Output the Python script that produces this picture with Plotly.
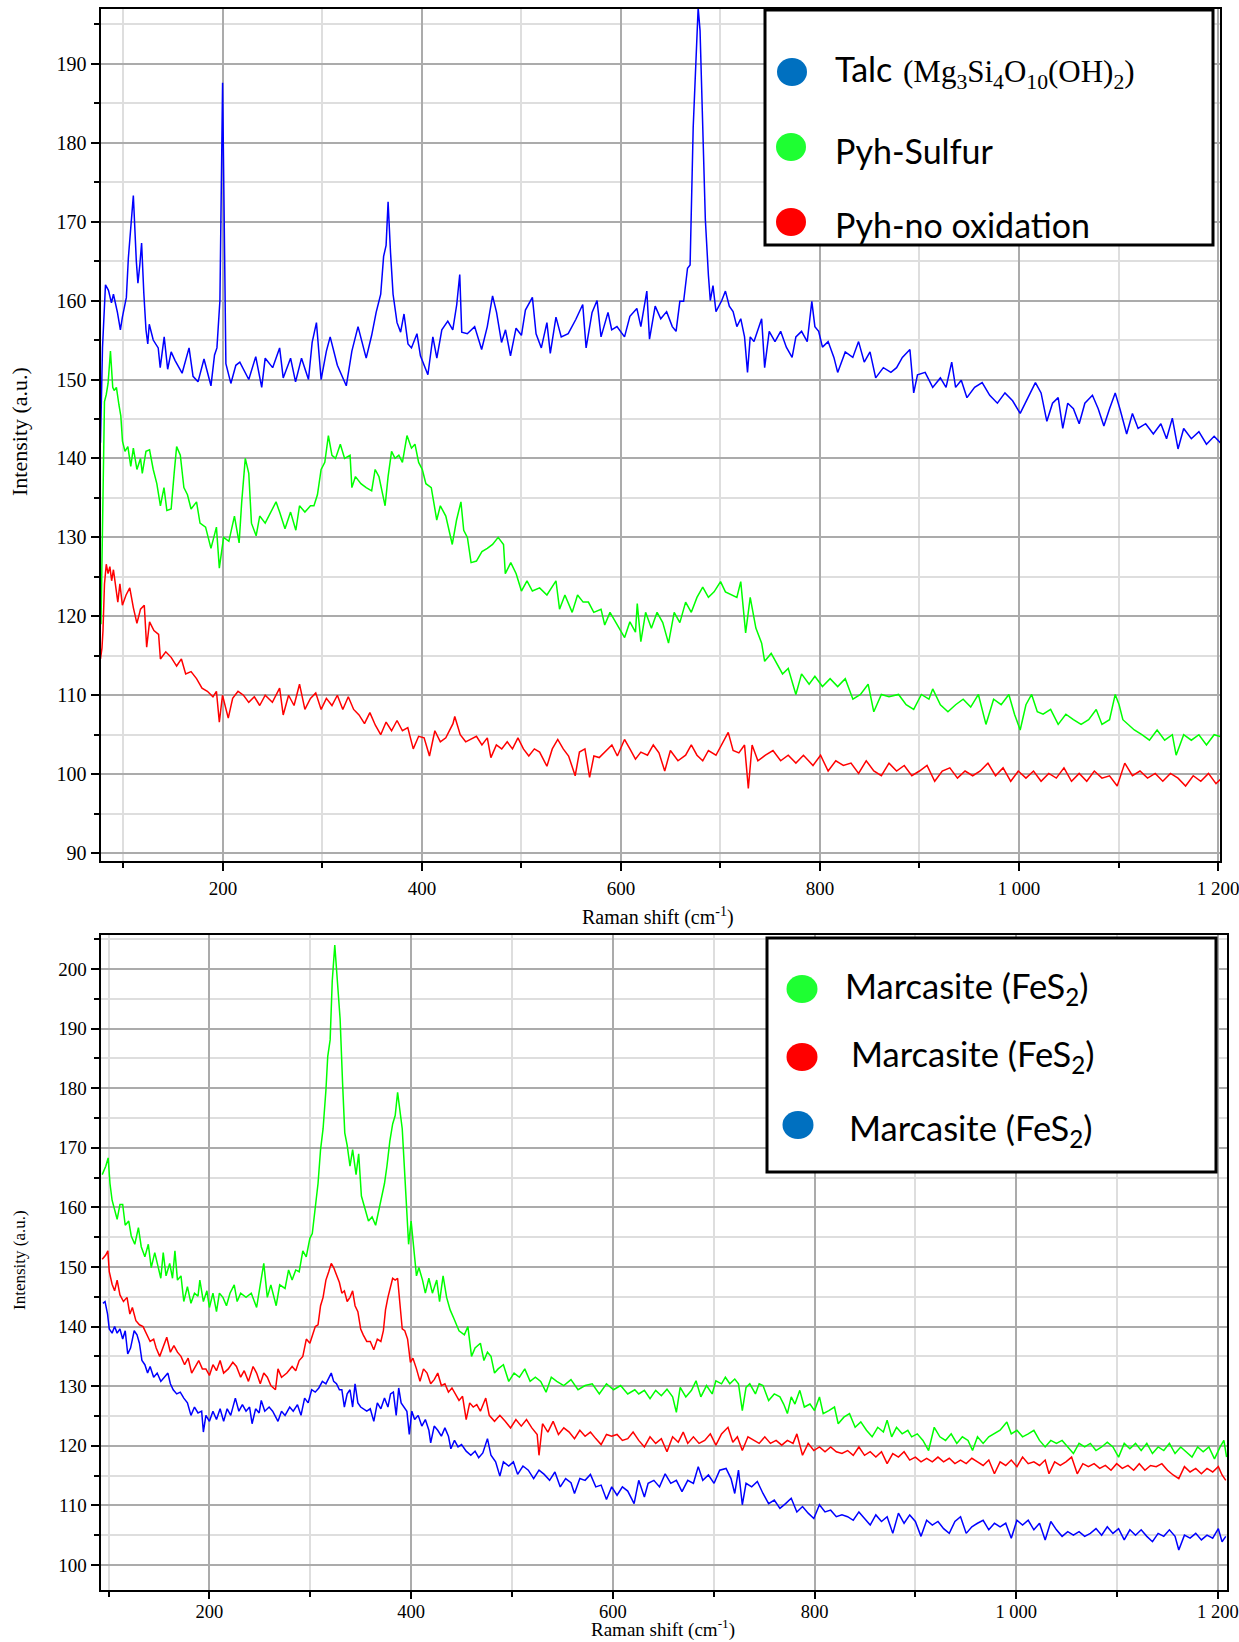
import plotly.graph_objects as go

W, H = 1239, 1642

# Raman spectra, (shift in cm-1, intensity in a.u.)
# Upper panel
TALC = [(77, 142.0), (79, 154.0), (82, 162.0), (85, 161.3), (88, 159.7), (90, 160.8), (94, 158.5), (97, 156.3), (99, 157.9), (103, 160.4), (105, 165.4), (110, 173.3), (113, 165.0), (114.6, 162.2), (116.5, 164.5), (118.3, 167.3), (120.5, 161.0), (122.7, 156.3), (124.5, 154.5), (126, 157.0), (130, 155.0), (135, 154.0), (137, 151.5), (141, 155.4), (144.5, 151.3), (148, 153.5), (152, 152.4), (159, 150.8), (166, 154.0), (170, 150.4), (175, 149.7), (181, 152.6), (188, 149.2), (191.6, 153.1), (194, 154.0), (197, 160.0), (199.7, 187.6), (201.5, 165.0), (203, 152.0), (208, 149.5), (213, 151.8), (217, 152.2), (226, 150.0), (233, 152.9), (239, 149.0), (242.5, 152.7), (250, 151.5), (257, 154.0), (260.6, 150.2), (268, 152.7), (273, 149.7), (279, 152.7), (286, 150.0), (289.7, 154.7), (294, 157.2), (298.7, 150.0), (304, 153.6), (307.8, 155.4), (315, 151.8), (324, 149.2), (329.6, 153.6), (335.8, 156.7), (344, 152.7), (349.5, 155.6), (354, 158.5), (358.6, 160.8), (361.5, 165.6), (364, 167.0), (366, 172.5), (368.5, 166.0), (371, 160.8), (375, 157.2), (378.6, 156.0), (382, 158.3), (386, 154.5), (389.5, 154.0), (395, 155.8), (398.5, 153.0), (406, 150.6), (411, 155.4), (415, 152.7), (420, 156.3), (426, 157.4), (431, 156.3), (435, 159.5), (438, 163.3), (440, 156.0), (445.6, 155.8), (453, 156.7), (460, 153.8), (465.7, 156.7), (471, 160.6), (475, 158.5), (480, 154.7), (484, 156.3), (489, 153.0), (494.6, 156.5), (500, 155.6), (504, 158.8), (511, 160.4), (514.7, 155.8), (520, 154.0), (525.6, 157.2), (529, 153.3), (534.7, 157.9), (540, 155.4), (547, 155.8), (554.6, 157.6), (561.6, 159.5), (565, 154.0), (571, 158.5), (576, 160.0), (580, 155.4), (587, 158.5), (590.7, 156.3), (596, 156.7), (603.6, 155.4), (609, 158.0), (616, 159.0), (620, 156.7), (626, 161.2), (628.7, 155.1), (634.4, 159.3), (640, 157.7), (645.9, 158.6), (651.6, 156.7), (655.4, 156.1), (659.2, 159.9), (663, 159.9), (666.9, 164.1), (669.5, 164.5), (672.6, 181.9), (675.7, 192.9), (677.6, 197.1), (679.5, 194.2), (682.2, 181.9), (684.8, 170.3), (687.9, 163.2), (689.8, 160.0), (692.5, 161.9), (695.5, 158.6), (701.3, 160.0), (705, 161.2), (708.9, 159.3), (712.7, 158.6), (716.5, 156.7), (720.4, 157.7), (724.2, 155.4), (727.2, 150.9), (729.9, 155.4), (733.7, 154.8), (741.4, 157.7), (744.4, 151.5), (749, 156.1), (754.8, 154.8), (760.5, 156.1), (766.2, 154.1), (772, 152.8), (775.8, 155.4), (781.5, 156.1), (787.2, 154.8), (791.8, 159.9), (794.9, 156.7), (798.7, 156.1), (802.5, 154.1), (808.2, 154.8), (814, 152.8), (817.8, 150.9), (825.4, 153.5), (833, 152.8), (838.8, 154.8), (844.5, 152.2), (850.3, 153.5), (856, 150.2), (863.7, 151.5), (871.3, 150.9), (877, 151.5), (882.8, 152.8), (890.4, 153.8), (894.2, 148.3), (898, 150.6), (905.7, 150.9), (913.3, 149.0), (921, 150.2), (926.7, 149.0), (932.4, 152.2), (936.3, 149.0), (942, 149.9), (947.7, 147.7), (955.4, 149.0), (963, 149.6), (970.6, 148.0), (978.3, 147.0), (985.9, 148.3), (993.6, 147.3), (1001.2, 145.7), (1008.9, 147.7), (1016.5, 149.6), (1022.2, 148.3), (1028, 144.7), (1033.7, 147.0), (1039.4, 147.7), (1044, 143.8), (1049, 147.0), (1054.7, 146.3), (1060.5, 144.4), (1066.2, 147.0), (1073.8, 148.0), (1079.6, 146.3), (1085.3, 144.1), (1091, 146.3), (1096.7, 148.3), (1101.4, 146.3), (1108.2, 143.1), (1114, 145.7), (1119.7, 143.8), (1127.3, 144.4), (1135, 143.1), (1142.6, 144.4), (1148.3, 142.5), (1154.1, 145.1), (1159.8, 141.2), (1165.5, 143.8), (1173.2, 142.5), (1180.8, 143.4), (1188.4, 141.8), (1196.1, 142.8), (1203.7, 141.8)]

PYH_SULFUR = [(77.5, 119.0), (78.4, 126.8), (81, 147.2), (82.8, 148.1), (84.6, 149.5), (87, 153.6), (89.3, 149.0), (90.7, 148.6), (93, 149.0), (95.5, 146.8), (97.4, 145.4), (99.1, 142.2), (101.6, 140.9), (104.5, 141.5), (107.4, 139.0), (110, 141.3), (113.6, 138.6), (117.2, 140.0), (119, 138.1), (122.7, 140.9), (126.3, 141.1), (130, 138.6), (133.6, 136.8), (137.2, 134.0), (140.8, 136.3), (143.7, 133.4), (148, 133.6), (151, 138.1), (153.5, 141.5), (157.2, 140.4), (160.8, 136.3), (164.4, 135.4), (168, 133.6), (173.5, 134.5), (177, 131.8), (182.6, 131.3), (188, 128.6), (193.5, 131.3), (196.4, 126.1), (200.7, 130.0), (206, 129.5), (211.6, 132.7), (216.3, 129.3), (218.9, 134.5), (222.5, 140.0), (226, 138.1), (228.7, 131.8), (233.4, 130.2), (237, 132.7), (242.5, 131.8), (248, 133.2), (253.4, 134.5), (257, 133.2), (262.4, 131.1), (268, 133.2), (273.3, 130.9), (277, 134.0), (282.4, 133.2), (288, 134.0), (291.5, 134.0), (295, 135.4), (298.7, 138.6), (302.4, 139.5), (306, 142.9), (309.6, 140.4), (313.2, 140.0), (318, 141.8), (322.3, 140.0), (327.8, 140.4), (329.6, 136.3), (333.2, 137.7), (338.7, 136.8), (344, 136.3), (349.5, 135.9), (353, 138.6), (356.8, 137.7), (363, 134.0), (366, 137.7), (369.5, 140.9), (373, 140.0), (376.8, 140.4), (380.4, 139.5), (385, 142.9), (389.5, 141.3), (393, 141.8), (396.7, 139.5), (400.4, 138.6), (404, 136.8), (409.4, 136.3), (414.9, 132.2), (418.5, 134.0), (424, 132.7), (430.5, 129.1), (434.8, 132.2), (439.2, 134.5), (442, 130.9), (445.7, 130.0), (449.4, 126.8), (454.8, 127.0), (460.3, 128.2), (465.7, 128.6), (471, 129.1), (476.6, 130.0), (482, 129.1), (483.8, 125.4), (489.3, 126.8), (494.7, 125.4), (500, 123.2), (505.6, 124.5), (511, 123.2), (518.3, 123.6), (525.6, 122.7), (534.7, 124.5), (538.3, 120.9), (543.7, 122.7), (551, 120.5), (556.4, 122.7), (562, 121.8), (567.3, 121.8), (572.7, 120.5), (580, 120.9), (583.7, 118.9), (589, 120.5), (594.6, 119.3), (603.7, 117.3), (609, 119.3), (614.6, 118.0), (616.4, 121.6), (620, 116.8), (624.8, 120.5), (630.6, 118.5), (636.3, 120.5), (642, 119.2), (647.8, 116.6), (653.5, 120.5), (659.2, 119.2), (665, 121.8), (670.7, 120.5), (676.4, 122.4), (682.2, 123.7), (687.9, 122.4), (693.6, 123.1), (700.1, 124.4), (705, 123.1), (710.8, 122.7), (716.5, 122.4), (720.4, 124.4), (725.3, 117.9), (729.9, 122.4), (735.6, 118.5), (741.4, 116.6), (744.4, 114.3), (751, 115.3), (756.7, 114.0), (762.4, 112.7), (768.1, 113.4), (775.8, 110.1), (781.5, 112.7), (789.1, 111.4), (794.9, 112.4), (802.5, 111.1), (810.2, 112.1), (817.8, 111.1), (825.4, 112.1), (833.1, 109.5), (840.7, 110.1), (848.4, 111.4), (854.1, 107.9), (861.7, 110.1), (869.4, 109.8), (879, 110.1), (886.6, 108.8), (894.2, 108.2), (901.9, 110.1), (909.5, 109.5), (913.3, 110.8), (921, 108.8), (928.6, 107.9), (936.3, 108.8), (943.9, 109.5), (951.5, 108.5), (959.2, 110.1), (966.8, 106.3), (974.5, 109.5), (982.1, 108.8), (989.8, 110.1), (995.5, 107.6), (1001.2, 105.6), (1007, 108.8), (1012.7, 110.1), (1018.4, 107.9), (1024.2, 107.6), (1031.8, 108.2), (1039.4, 106.3), (1047.1, 107.6), (1054.7, 106.9), (1062.4, 106.3), (1070, 106.9), (1077.6, 108.2), (1083.4, 106.3), (1091, 106.9), (1096.7, 110.1), (1100.6, 108.8), (1104.4, 106.9), (1110.1, 106.3), (1115.9, 105.6), (1123.5, 105.0), (1131.1, 104.3), (1138.8, 105.6), (1146.4, 104.3), (1154.1, 105.0), (1157.9, 102.4), (1165.5, 105.0), (1173.2, 104.3), (1180.8, 105.0), (1188.4, 103.7), (1196.1, 105.0), (1203.7, 104.7)]

PYH_NO_OXIDATION = [(77, 114.6), (78.5, 116.0), (79.5, 118.2), (81, 124.1), (82.8, 126.6), (84.6, 125.4), (86.4, 126.3), (88.2, 124.5), (90, 125.9), (91.8, 124.1), (94.4, 121.8), (96.5, 124.1), (99, 121.4), (102.7, 122.7), (106.4, 123.6), (110, 121.1), (113.6, 119.1), (117.2, 120.9), (121, 121.4), (123.4, 116.1), (126.3, 119.3), (130.7, 118.2), (135.4, 117.7), (137.2, 114.6), (142.6, 115.5), (148, 114.8), (153.5, 113.7), (158.3, 114.6), (162.6, 112.7), (168, 113.0), (173.5, 112.1), (179, 110.9), (184.4, 110.5), (190, 109.8), (193.5, 110.5), (196.4, 106.6), (199.6, 110.0), (205.4, 107.1), (209.8, 109.6), (215.2, 110.5), (220.7, 110.0), (226, 109.1), (231.6, 109.8), (237, 108.7), (242.5, 110.0), (249.7, 109.1), (257, 110.9), (260.6, 107.5), (266, 110.0), (271.5, 108.7), (277, 111.4), (282.4, 108.2), (288, 109.6), (293.3, 110.3), (298.7, 108.2), (304, 109.6), (309.6, 108.7), (315, 110.0), (320.5, 108.2), (326, 109.8), (331.4, 108.2), (336.8, 107.5), (342.3, 106.4), (347.7, 107.8), (353.2, 106.2), (358.6, 105.0), (364, 106.6), (369.5, 105.5), (375, 106.8), (380.4, 105.5), (385.8, 105.9), (391.3, 103.2), (396.7, 104.8), (402.2, 104.6), (407.6, 102.3), (413, 105.5), (418.5, 104.1), (424, 104.6), (431.2, 106.4), (433, 107.3), (438.5, 105.0), (444, 104.1), (449.4, 104.4), (454.8, 104.8), (460.3, 103.7), (465.7, 104.6), (469.3, 102.1), (474.8, 103.7), (480.2, 103.2), (485.7, 104.1), (491, 103.2), (496.5, 104.6), (502, 103.2), (507.4, 102.3), (513, 103.2), (518.3, 102.8), (525.6, 101.0), (531, 103.2), (536.5, 104.4), (542, 103.2), (547.4, 102.3), (554, 99.8), (558.3, 102.8), (563.8, 103.2), (568.5, 99.6), (572.8, 102.3), (578.2, 102.1), (583.7, 102.8), (590.9, 103.7), (596.4, 102.3), (603.6, 104.4), (609, 103.2), (614.6, 101.9), (620, 102.8), (626.7, 102.4), (632.5, 103.7), (638.2, 102.7), (644, 100.4), (649.7, 103.0), (657.3, 101.7), (665, 102.4), (670.7, 103.7), (676.4, 102.4), (682.2, 101.7), (687.9, 103.0), (695.5, 102.4), (701.3, 103.7), (707.8, 105.3), (712.7, 103.0), (718.5, 102.7), (724.2, 103.7), (728, 98.2), (731.8, 103.7), (737.6, 101.7), (745.2, 102.4), (752.8, 103.0), (760.5, 101.7), (768.1, 102.4), (775.8, 101.4), (783.4, 102.4), (793, 101.1), (800.6, 102.4), (808.2, 100.4), (815.9, 101.7), (823.5, 101.1), (831.2, 101.4), (838.8, 100.1), (846.5, 101.7), (854.1, 100.4), (861.7, 99.8), (869.4, 101.4), (877, 100.4), (884.7, 101.1), (892.3, 99.8), (900, 100.4), (907.6, 101.1), (915.3, 99.1), (922.9, 100.4), (930.5, 100.8), (938.2, 99.5), (945.8, 100.4), (953.5, 99.8), (961.1, 100.4), (968.8, 101.4), (976.4, 99.8), (984, 100.8), (991.7, 99.1), (999.3, 100.4), (1007, 99.5), (1014.6, 100.4), (1022.2, 99.1), (1029.9, 100.1), (1037.5, 99.5), (1045.2, 100.8), (1052.8, 99.1), (1060.5, 100.1), (1068.1, 99.1), (1075.7, 100.4), (1083.4, 99.5), (1091, 99.8), (1098.7, 98.5), (1106.3, 101.4), (1114, 99.8), (1121.6, 100.4), (1129.2, 99.5), (1136.9, 100.1), (1144.5, 99.1), (1152.2, 100.1), (1159.8, 99.5), (1167.4, 98.5), (1175.1, 99.8), (1182.7, 99.1), (1190.4, 100.1), (1198, 98.8), (1203.7, 99.5)]

# Lower panel: three marcasite spectra
MARCASITE_GREEN = [(93.7, 165.5), (97.2, 166.9), (99.6, 168.3), (101.4, 164.0), (103.5, 161.2), (106, 159.8), (108.5, 158.0), (111.3, 160.5), (114, 160.5), (116.5, 157.0), (120, 157.7), (122.5, 155.2), (126, 153.8), (129.6, 156.6), (132.4, 153.4), (136, 151.7), (139.4, 153.8), (142.3, 149.9), (145.8, 152.4), (149.3, 149.9), (151.8, 148.1), (154.2, 152.4), (157, 148.5), (160.6, 150.6), (163.4, 148.1), (165.8, 152.7), (168.3, 147.8), (171.8, 148.5), (174.6, 144.2), (178.2, 146.7), (181.7, 143.9), (185.2, 145.6), (188.7, 145.1), (190.5, 147.8), (194, 144.2), (197.5, 146.0), (200, 143.2), (203.5, 145.6), (207, 142.5), (209.9, 145.6), (213.4, 144.9), (216.9, 143.5), (220.4, 145.6), (224.6, 147.0), (227.5, 144.2), (231, 145.6), (236.3, 144.9), (241.5, 145.6), (246.8, 143.2), (250.4, 147.0), (253.9, 150.6), (257.4, 144.9), (260.9, 147.0), (266.2, 143.5), (269.7, 147.0), (275, 146.4), (278.5, 149.5), (282, 147.8), (285.6, 149.5), (289, 149.2), (292.6, 152.7), (296, 151.7), (299.6, 154.8), (302, 155.6), (305, 159.8), (307.7, 164.0), (310.2, 169.7), (312.7, 173.2), (315.5, 179.6), (317.3, 185.3), (319.7, 188.1), (321.8, 198.0), (324.3, 204.0), (326.8, 198.7), (329.6, 191.6), (332, 181.0), (334.2, 172.5), (336.6, 170.4), (339.4, 166.9), (342, 169.7), (345.4, 165.5), (348, 169.0), (350.7, 161.9), (354.2, 159.8), (357.7, 157.7), (361.3, 158.4), (364.8, 157.0), (368.3, 159.8), (371.1, 161.9), (373.6, 164.0), (376, 166.9), (378.9, 171.1), (381.7, 174.0), (384.2, 175.4), (386.6, 179.3), (388.7, 176.8), (391.2, 173.2), (393.7, 165.5), (395.8, 158.4), (397.5, 153.8), (400, 157.7), (402.8, 152.7), (405.3, 148.5), (407.7, 149.9), (411.3, 147.8), (414.1, 145.6), (417.6, 148.1), (421.1, 145.6), (425.4, 147.8), (428.2, 144.2), (431.7, 148.5), (435.2, 144.9), (438.7, 142.8), (442.3, 141.4), (447.5, 139.3), (452.8, 138.6), (456.3, 140.0), (459.9, 135.0), (463.4, 136.4), (468.7, 137.2), (472.2, 134.3), (475.7, 135.7), (479.2, 135.0), (482.7, 132.2), (486.3, 132.9), (491.5, 133.6), (496.8, 130.8), (502.1, 132.2), (507.4, 131.5), (512.7, 132.9), (518, 130.8), (523.2, 131.5), (528.5, 130.8), (533.8, 129.0), (539, 131.5), (544.4, 130.8), (551.4, 130.1), (558.5, 131.1), (565.5, 129.4), (572.5, 130.1), (579.6, 130.4), (586.6, 128.7), (593.7, 130.4), (600.7, 129.4), (607.7, 130.1), (614.8, 128.7), (621.8, 129.4), (625.7, 128.7), (631.3, 129.3), (636.9, 127.9), (642.5, 129.3), (648.1, 128.4), (653.7, 129.5), (659.3, 128.2), (663, 125.6), (666.8, 129.8), (672.4, 128.2), (678, 129.3), (682.5, 130.9), (687.3, 128.2), (692.9, 130.1), (698.5, 128.7), (702.2, 130.9), (707.8, 130.4), (711.6, 131.5), (716, 130.4), (720.9, 131.2), (724.6, 130.4), (728.4, 125.9), (732.1, 129.8), (735.8, 130.4), (741.4, 128.7), (745.1, 130.4), (748.9, 130.1), (754.5, 127.6), (760.1, 128.7), (765.7, 128.2), (769.4, 127.0), (773.1, 125.4), (776.9, 128.2), (780.6, 127.0), (785.4, 129.3), (789.9, 126.5), (795.5, 127.0), (800, 125.9), (804.9, 128.2), (808.6, 125.4), (814.2, 125.9), (819.8, 126.5), (823.5, 123.7), (829.1, 124.8), (834.7, 125.4), (840.3, 123.1), (845.9, 124.0), (851.5, 122.6), (857.1, 121.5), (862.7, 123.1), (868.3, 122.3), (872, 124.3), (876.5, 121.5), (881.3, 123.1), (886.9, 122.0), (892.5, 122.6), (896.3, 121.5), (901.9, 122.0), (907.5, 120.9), (913.1, 119.2), (918.7, 123.1), (924.3, 121.5), (929.9, 120.9), (935.5, 122.0), (941.1, 120.4), (946.6, 121.5), (952.2, 120.9), (956.7, 119.2), (961.6, 121.5), (967.2, 120.4), (972.8, 121.5), (978.4, 122.0), (984, 122.6), (990.7, 124.0), (995.1, 122.0), (1000.7, 122.6), (1006.3, 121.5), (1011.9, 122.0), (1017.5, 122.6), (1023.1, 120.9), (1028.7, 119.8), (1034.3, 120.9), (1039.9, 120.4), (1045.5, 120.9), (1051.1, 119.8), (1056.7, 118.7), (1062.3, 120.4), (1067.9, 119.8), (1073.5, 120.4), (1079.1, 119.2), (1084.7, 119.8), (1090.3, 120.6), (1095.9, 119.8), (1101.5, 118.1), (1107.1, 120.4), (1112.7, 119.5), (1118.3, 120.4), (1123.9, 119.2), (1129.5, 120.4), (1135.1, 118.7), (1140.7, 119.8), (1146.3, 119.2), (1151.9, 120.4), (1157.5, 118.7), (1163.1, 119.8), (1168.7, 119.0), (1174.3, 118.1), (1179.9, 119.8), (1185.4, 119.0), (1191, 119.8), (1196.6, 117.8), (1202.2, 119.8), (1205.9, 120.9), (1208.6, 118.1)]

MARCASITE_RED = [(93.7, 151.3), (97.2, 152.0), (99.3, 152.7), (100.7, 149.2), (103.5, 147.1), (106, 146.0), (108.5, 147.8), (111.3, 145.3), (114.8, 144.2), (118.3, 144.9), (121.1, 142.1), (123.6, 143.2), (127.1, 141.0), (130.6, 140.3), (134.2, 140.0), (137.7, 138.6), (141.2, 137.5), (144.7, 137.9), (147.2, 136.4), (150.7, 135.0), (154.2, 136.8), (157.7, 138.2), (161.3, 135.7), (164.8, 136.8), (168.3, 135.7), (171.8, 135.0), (175.4, 133.6), (178.9, 134.7), (182.4, 132.2), (185.9, 133.3), (189.4, 134.3), (193, 132.9), (196.5, 132.9), (200, 131.8), (203.5, 133.6), (207, 132.6), (210.6, 134.3), (214.1, 132.2), (218.7, 132.9), (223.2, 134.0), (226.8, 133.3), (231, 131.5), (234.5, 132.6), (238.7, 130.8), (243.3, 133.3), (246.8, 132.2), (250.4, 130.4), (253.9, 132.2), (257.4, 131.5), (260.9, 130.1), (265.5, 129.4), (268, 132.9), (271.5, 131.5), (276.8, 132.2), (282, 133.3), (285.6, 132.6), (289, 134.3), (292.6, 135.0), (296.1, 137.9), (299.6, 137.2), (302, 138.6), (305, 140.0), (307.7, 140.3), (310.2, 143.5), (312.7, 144.9), (315.5, 147.8), (318.3, 149.2), (320.8, 150.6), (323.2, 149.9), (326, 148.5), (328.9, 147.4), (331.3, 145.6), (333.8, 146.0), (336.6, 144.2), (339.4, 144.9), (342, 146.0), (344.4, 143.5), (347.2, 142.5), (350, 139.6), (352.5, 138.6), (356, 137.5), (359.5, 137.5), (363, 136.1), (366.5, 137.9), (370, 137.5), (372.5, 139.3), (374.6, 142.8), (377, 144.9), (379.6, 146.7), (381.7, 148.1), (384.2, 147.8), (386.6, 148.1), (388.7, 144.2), (391.2, 139.6), (393.7, 139.3), (396.5, 137.9), (399.3, 134.0), (401.8, 134.7), (405.3, 132.9), (408.8, 130.8), (412.3, 132.9), (415.8, 132.2), (419.4, 130.4), (422.9, 131.1), (426.4, 132.2), (430, 130.1), (433.5, 130.4), (437, 129.0), (440.5, 129.7), (444, 128.7), (447.5, 127.6), (451, 128.3), (454.6, 124.4), (458.1, 127.2), (461.6, 126.5), (465.1, 126.9), (468.7, 125.8), (474, 128.0), (477.5, 125.1), (482.7, 124.1), (488, 125.1), (493.3, 124.1), (498.6, 123.0), (503.9, 124.4), (509.2, 123.3), (514.4, 124.4), (519.7, 123.0), (525, 121.9), (526.8, 118.4), (530.3, 123.7), (535.6, 122.3), (540.8, 124.1), (546.1, 121.9), (551.4, 123.0), (556.7, 122.3), (562, 121.2), (567.3, 122.6), (572.5, 121.6), (577.8, 122.3), (583.1, 121.2), (588.4, 120.2), (593.7, 121.9), (598.9, 121.6), (604.2, 121.9), (609.5, 120.9), (614.8, 121.2), (620.1, 122.3), (625.7, 120.9), (631.3, 119.8), (636.9, 121.5), (642.5, 120.4), (648.1, 121.2), (653.7, 119.0), (659.3, 121.5), (664.9, 120.6), (669.8, 122.3), (674.3, 120.4), (679.9, 121.5), (685.5, 120.4), (691.1, 120.9), (696.7, 122.0), (702.2, 120.1), (707.8, 122.0), (714.2, 123.1), (719, 120.6), (723.5, 121.5), (728.4, 119.2), (734, 121.5), (739.6, 120.9), (745.1, 120.4), (750.7, 121.5), (756.3, 120.4), (761.9, 120.9), (767.5, 120.1), (773.1, 120.9), (778.7, 120.4), (782.5, 122.0), (788.1, 118.4), (793.7, 120.4), (799.3, 119.2), (804.9, 119.8), (810.4, 119.0), (816, 119.8), (821.6, 119.0), (827.2, 118.7), (832.8, 119.2), (838.4, 118.4), (844, 119.8), (849.6, 118.4), (855.2, 119.0), (860.8, 118.1), (866.4, 119.0), (872, 117.0), (877.6, 118.7), (883.2, 118.1), (888.8, 119.0), (894.4, 117.6), (900, 118.1), (905.6, 117.3), (911.2, 117.9), (916.8, 117.3), (922.4, 118.1), (928, 117.3), (933.6, 117.9), (939.2, 117.0), (944.8, 117.6), (950.4, 117.0), (956, 117.9), (961.6, 117.3), (967.2, 116.7), (972.8, 117.6), (978.4, 115.3), (984, 117.3), (989.6, 116.7), (995.1, 117.6), (1000.7, 116.5), (1006.3, 118.1), (1011.9, 117.0), (1017.5, 117.3), (1023.1, 116.7), (1028.7, 117.6), (1032.5, 115.3), (1038.1, 117.3), (1043.7, 116.7), (1049.3, 117.3), (1054.9, 118.1), (1060.5, 115.3), (1066.1, 117.0), (1071.6, 116.5), (1077.2, 117.0), (1082.8, 116.2), (1088.4, 116.7), (1094, 115.9), (1099.6, 117.0), (1105.2, 116.2), (1110.8, 116.7), (1116.4, 115.9), (1122, 117.0), (1127.6, 115.9), (1133.2, 116.7), (1138.8, 116.5), (1144.4, 117.0), (1150, 115.9), (1155.6, 115.1), (1161.2, 114.5), (1166.8, 116.5), (1172.4, 115.6), (1178, 116.2), (1183.6, 115.3), (1189.2, 116.2), (1194.8, 115.6), (1200.4, 116.5), (1204.1, 115.1), (1207.8, 114.2)]

MARCASITE_BLUE = [(94.4, 143.9), (96.5, 144.2), (99, 142.1), (100.7, 139.6), (103.5, 138.9), (106, 140.0), (108.5, 138.9), (111.3, 139.6), (114, 137.9), (116.5, 139.3), (119, 135.4), (121.8, 136.4), (125.4, 139.3), (128.2, 138.6), (130.6, 137.2), (133.1, 134.3), (136, 133.6), (138.7, 132.2), (141.2, 133.3), (144.7, 131.5), (148.2, 132.2), (151.8, 130.8), (155.3, 131.5), (158.8, 132.2), (161.3, 130.4), (164.1, 129.4), (167.6, 128.7), (171.1, 129.0), (174.6, 128.0), (178.2, 127.2), (181.7, 125.1), (185.2, 126.5), (188.7, 125.5), (192.3, 125.8), (194, 122.3), (196.5, 125.1), (200, 124.1), (203.5, 125.8), (207, 124.4), (210.6, 126.2), (214.1, 124.1), (217.6, 126.2), (221.1, 125.1), (225.7, 128.0), (229.2, 125.8), (232.7, 126.9), (236.3, 125.8), (239.8, 126.5), (242.3, 123.7), (245.8, 126.2), (249.3, 125.5), (251.4, 127.6), (254.9, 125.8), (259.2, 126.5), (262.7, 125.8), (268, 124.1), (271.5, 125.8), (275, 125.1), (279.6, 126.5), (283.1, 125.8), (287.3, 126.9), (290.8, 125.1), (294.4, 128.0), (297.9, 127.2), (301.4, 129.4), (304.9, 129.0), (308.5, 129.7), (312, 130.8), (315.5, 130.4), (318.3, 131.5), (320.8, 132.2), (323.2, 130.8), (326, 130.4), (328.9, 129.4), (331.3, 129.4), (333.8, 126.5), (336.6, 128.7), (339.4, 129.4), (342, 126.5), (344.4, 130.4), (347.2, 127.2), (350, 126.5), (356, 125.8), (359.5, 126.2), (363, 124.1), (366.5, 127.2), (370, 126.2), (373.6, 128.0), (377, 126.5), (379.6, 128.7), (382.4, 129.0), (385.2, 125.1), (387.7, 129.7), (390.1, 127.2), (393, 126.5), (395.8, 125.8), (398.2, 121.9), (400.7, 125.8), (403.5, 124.4), (407, 125.1), (410.6, 123.3), (414.1, 124.4), (417.6, 122.6), (419.4, 120.5), (422.9, 123.3), (426.4, 122.6), (430, 121.6), (433.5, 123.0), (437, 121.6), (439.4, 119.5), (443, 120.9), (446.5, 119.8), (450, 120.2), (454.6, 119.1), (459.2, 118.4), (463.4, 119.1), (467, 118.0), (471.1, 118.8), (475.7, 121.2), (479.2, 118.4), (483.8, 117.3), (488, 114.9), (491.5, 117.3), (496.8, 116.6), (501.4, 117.3), (505.6, 115.2), (510.9, 116.6), (516.2, 115.9), (521.5, 114.5), (526.8, 115.9), (532, 115.2), (537.3, 114.2), (542.6, 115.6), (547.9, 113.1), (553.2, 114.5), (558.5, 113.8), (562, 112.0), (567.3, 114.5), (572.5, 114.2), (577.8, 115.2), (583.1, 113.1), (588.4, 113.4), (593.7, 111.0), (598.9, 113.1), (604.2, 111.7), (609.5, 113.1), (614.8, 112.4), (621.1, 110.3), (625.7, 114.2), (631.3, 111.4), (635, 113.7), (640.7, 114.2), (646.3, 113.1), (651.9, 115.3), (657.5, 113.7), (663, 114.2), (668.6, 112.3), (674.3, 114.2), (679.9, 113.7), (684.7, 116.5), (689.2, 114.2), (694.8, 115.1), (700.4, 113.7), (706, 115.9), (712.3, 116.2), (717.2, 114.5), (720.9, 112.0), (724.6, 115.9), (728.4, 110.1), (732.1, 113.7), (737.7, 113.1), (743.3, 114.0), (748.9, 112.0), (754.5, 110.3), (760.1, 110.9), (765.7, 109.5), (771.3, 110.3), (776.9, 111.2), (782.5, 108.9), (788.1, 109.8), (793.7, 108.7), (799.3, 107.8), (804.9, 110.1), (810.4, 108.9), (816, 109.2), (821.6, 108.1), (827.2, 108.4), (832.8, 108.1), (838.4, 107.5), (844, 108.9), (849.6, 107.8), (855.2, 106.7), (860.8, 108.4), (866.4, 107.3), (872, 108.1), (877.6, 105.3), (883.2, 108.7), (888.8, 107.0), (894.4, 108.4), (900, 107.3), (905.6, 104.8), (911.2, 107.5), (916.8, 106.7), (922.4, 107.3), (928, 106.1), (933.6, 105.3), (939.2, 107.3), (944.8, 108.1), (950.4, 105.3), (956, 106.4), (961.6, 107.0), (967.2, 107.5), (972.8, 105.9), (978.4, 107.0), (984, 106.4), (989.6, 107.0), (995.1, 104.5), (1000.7, 107.5), (1006.3, 106.7), (1011.9, 107.5), (1017.5, 105.9), (1023.1, 107.0), (1028.7, 104.2), (1034.3, 107.3), (1039.9, 105.9), (1045.5, 104.8), (1051.1, 105.6), (1056.7, 105.0), (1062.3, 105.6), (1067.9, 104.8), (1073.5, 105.3), (1079.1, 106.1), (1084.7, 105.0), (1090.3, 106.4), (1095.9, 105.3), (1101.5, 106.1), (1107.1, 104.2), (1112.7, 105.9), (1118.3, 105.0), (1123.9, 105.9), (1129.5, 104.8), (1135.1, 103.9), (1140.7, 105.3), (1146.3, 104.8), (1151.9, 105.9), (1157.5, 104.8), (1161.2, 102.5), (1166.8, 105.0), (1172.4, 104.5), (1178, 105.3), (1183.6, 104.2), (1189.2, 105.0), (1194.8, 104.5), (1200.4, 106.1), (1204.1, 103.9), (1207.8, 104.8)]

TOP_LEGEND = ["Talc", "Pyh-Sulfur", "Pyh-no oxidation"]
TALC_FORMULA = "(Mg<sub>3</sub>Si<sub>4</sub>O<sub>10</sub>(OH)<sub>2</sub>)"
BOTTOM_LEGEND = ["Marcasite (FeS<sub>2</sub>)"] * 3
X_TITLE = "Raman shift (cm<sup>-1</sup>)"
Y_TITLE = "Intensity (a.u.)"

SERIF = "Liberation Serif, Times New Roman, serif"
SANS = "Lato, Carlito, Calibri, sans-serif"


def px(x):
    return x / W


def py(y):
    return 1 - y / H


fig = go.Figure()


def add_spectrum(series, color, xa, ya):
    xs = [p[0] for p in series]
    ys = [p[1] for p in series]
    fig.add_trace(go.Scatter(x=xs, y=ys, mode="lines", xaxis=xa, yaxis=ya,
                             line=dict(color=color, width=1.5), hoverinfo="skip"))


add_spectrum(PYH_NO_OXIDATION, "#FF0000", "x", "y")
add_spectrum(PYH_SULFUR, "#00FF00", "x", "y")
add_spectrum(TALC, "#0000FF", "x", "y")
add_spectrum(MARCASITE_BLUE, "#0000FF", "x2", "y2")
add_spectrum(MARCASITE_RED, "#FF0000", "x2", "y2")
add_spectrum(MARCASITE_GREEN, "#00FF00", "x2", "y2")


def axis_style(size, dtick, minor_dtick, ticklen=8):
    return dict(
        showline=True, linecolor="black", linewidth=2, mirror=True,
        ticks="outside", ticklen=ticklen, tickwidth=1.5, tickcolor="black",
        tick0=0, dtick=dtick,
        showgrid=True, gridcolor="#ABABAB", gridwidth=1.5,
        zeroline=False, automargin=False,
        tickfont=dict(family=SERIF, size=size, color="black"),
        minor=dict(dtick=minor_dtick, tick0=0, ticks="outside", ticklen=5,
                   tickwidth=1.5, tickcolor="black",
                   showgrid=True, gridcolor="#DEDEDE", gridwidth=1.5),
    )


fig.update_layout(
    width=W, height=H,
    margin=dict(l=0, r=0, t=0, b=0, autoexpand=False),
    paper_bgcolor="white", plot_bgcolor="white",
    showlegend=False,
    separators=". ",
    xaxis=dict(domain=[px(100.5), px(1220)], anchor="y", range=[77, 1202],
               separatethousands=True, ticklabelstandoff=1, ticklabeloverflow="allow",
               **axis_style(19, 200, 100)),
    yaxis=dict(domain=[py(861), py(8.5)], anchor="x", range=[89, 197],
               **axis_style(20, 10, 5)),
    xaxis2=dict(domain=[px(100.5), px(1227)], anchor="y2", range=[92, 1209],
                separatethousands=True, ticklabelstandoff=-3, ticklabeloverflow="allow",
                **axis_style(18.5, 200, 100, ticklen=7)),
    yaxis2=dict(domain=[py(1590), py(935)], anchor="x2", range=[95.8, 205.7],
                **axis_style(19, 10, 5)),
)

shapes = []
annotations = []


def legend_box(x0, y0, x1, y1):
    shapes.append(dict(type="rect", xref="paper", yref="paper",
                       x0=px(x0), x1=px(x1), y0=py(y1), y1=py(y0),
                       fillcolor="white", line=dict(color="black", width=3),
                       layer="above"))


def legend_dot(cx, cy, color, rx=15, ry=14):
    shapes.append(dict(type="circle", xref="paper", yref="paper",
                       x0=px(cx - rx), x1=px(cx + rx), y0=py(cy + ry), y1=py(cy - ry),
                       fillcolor=color, line=dict(width=0), layer="above"))


def label(text, x, y, family, size, **kw):
    annotations.append(dict(text=text, xref="paper", yref="paper", x=px(x), y=py(y),
                            xanchor=kw.pop("xanchor", "left"), yanchor="middle",
                            showarrow=False, font=dict(family=family, size=size, color="black"),
                            **kw))


# upper legend
legend_box(765, 10, 1213, 245)
legend_dot(792, 72, "#0070C0")
legend_dot(791, 147, "#1EFF32")
legend_dot(791, 222, "#FF0000")
label(TOP_LEGEND[0], 833, 68, SANS, 34)
label(TALC_FORMULA, 901, 74, SERIF, 31)
label(TOP_LEGEND[1], 833, 151, SANS, 34)
label(TOP_LEGEND[2], 833, 225, SANS, 34)

# lower legend
legend_box(767, 938, 1216, 1172)
legend_dot(802, 989, "#1EFF32", 15.5, 14)
legend_dot(802, 1057, "#FF0000", 15.5, 14)
legend_dot(798, 1125, "#0070C0", 15.5, 14)
label(BOTTOM_LEGEND[0], 843, 988, SANS, 34.5)
label(BOTTOM_LEGEND[1], 849, 1056, SANS, 34.5)
label(BOTTOM_LEGEND[2], 847, 1130, SANS, 34.5)

# axis titles
label(X_TITLE, 658, 916, SERIF, 20, xanchor="center")
label(X_TITLE, 663, 1628, SERIF, 19, xanchor="center")
label(Y_TITLE, 19, 432, SERIF, 22, xanchor="center", textangle=-90)
label(Y_TITLE, 19, 1260, SERIF, 17, xanchor="center", textangle=-90)

fig.update_layout(shapes=shapes, annotations=annotations)

fig.write_html("out.html")
